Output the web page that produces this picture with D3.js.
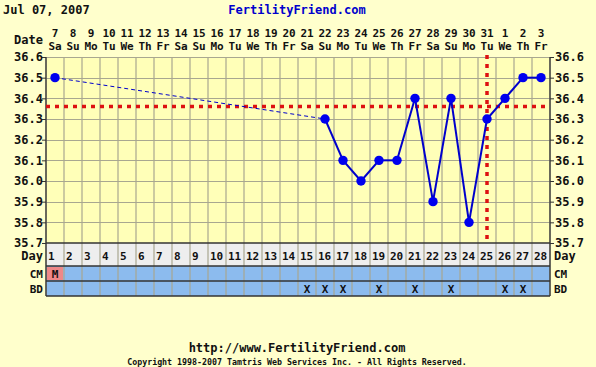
<!DOCTYPE html>
<html>
<head>
<meta charset="utf-8">
<script src="https://cdn.jsdelivr.net/npm/d3@7"></script>
<style>
  body { margin: 0; background: #ffffcc; }
  svg text { font-family: "DejaVu Sans Mono", monospace; font-weight: bold; }
</style>
</head>
<body>
<div id="Chart"></div>
<script>
// chart data
var cycleDays = d3.range(1, 29);
var dates = [7,8,9,10,11,12,13,14,15,16,17,18,19,20,21,22,23,24,25,26,27,28,29,30,31,1,2,3];
var weekdays = ["Sa","Su","Mo","Tu","We","Th","Fr","Sa","Su","Mo","Tu","We","Th","Fr",
                "Sa","Su","Mo","Tu","We","Th","Fr","Sa","Su","Mo","Tu","We","Th","Fr"];
// temperatures, null = not recorded
var temps = [36.5,null,null,null,null,null,null,null,null,null,null,null,null,null,null,
             36.3,36.1,36.0,36.1,36.1,36.4,35.9,36.4,35.8,36.3,36.4,36.5,36.5];
var tempTicks = [35.7,35.8,35.9,36.0,36.1,36.2,36.3,36.4,36.5,36.6];
var cmRow = ["M","","","","","","","","","","","","","","","","","","","","","","","","","","",""];
var bdDays = [15,16,17,19,21,23,26,27];
var coverline = 36.36;
var ovulationDay = 25;

var W = 596, H = 367;
var margin = {left: 46, right: 46, top: 57},
    plotH = 186;

var svg = d3.select("#Chart").append("svg")
    .attr("width", W).attr("height", H)
    .style("display", "block");

svg.append("rect").attr("width", W).attr("height", H).attr("fill", "#ffffcc");

var x = d3.scaleBand().domain(cycleDays).range([margin.left, W - margin.right]);
var y = d3.scaleLinear().domain([35.7, 36.6]).range([margin.top + plotH, margin.top]);
var bw = x.bandwidth();
var cx = function(d) { return x(d) + bw / 2; };

var plotBottom = margin.top + plotH;
var dayRow = {y: plotBottom, h: 23},
    cmR = {y: plotBottom + 23, h: 15},
    bdR = {y: plotBottom + 38, h: 15};

// plot background
svg.append("rect")
    .attr("x", margin.left).attr("y", margin.top)
    .attr("width", W - margin.left - margin.right).attr("height", plotH)
    .attr("fill", "#ffffb8");

// horizontal grid
svg.append("g").selectAll("line")
  .data(tempTicks).enter().append("line")
    .attr("x1", margin.left).attr("x2", W - margin.right)
    .attr("y1", function(d) { return Math.round(y(d)) + 0.5; })
    .attr("y2", function(d) { return Math.round(y(d)) + 0.5; })
    .attr("stroke", "#a8a790").attr("stroke-width", 1.2);

// row backgrounds
svg.append("rect").attr("x", margin.left).attr("y", dayRow.y)
    .attr("width", W - margin.left - margin.right).attr("height", dayRow.h).attr("fill", "#eeeeee");
svg.append("rect").attr("x", margin.left).attr("y", cmR.y)
    .attr("width", W - margin.left - margin.right).attr("height", cmR.h + bdR.h).attr("fill", "#8cbbee");

// M cells
svg.append("g").selectAll("rect")
  .data(cycleDays.filter(function(d, i) { return cmRow[i] == "M"; }))
  .enter().append("rect")
    .attr("x", function(d) { return x(d) + 1; }).attr("y", cmR.y + 1)
    .attr("width", bw - 2).attr("height", cmR.h - 2)
    .attr("fill", "#ee8888");

// vertical grid
svg.append("g").selectAll("line")
  .data(cycleDays.concat([29])).enter().append("line")
    .attr("x1", function(d) { return d == 29 ? W - margin.right : x(d); })
    .attr("x2", function(d) { return d == 29 ? W - margin.right : x(d); })
    .attr("y1", margin.top).attr("y2", bdR.y + bdR.h)
    .attr("stroke", "#a8a790").attr("stroke-width", 1.2);

// row separators
[dayRow.y, cmR.y, bdR.y, bdR.y + bdR.h].forEach(function(yy) {
  svg.append("line").attr("x1", margin.left).attr("x2", W - margin.right)
    .attr("y1", yy).attr("y2", yy).attr("stroke", "#333").attr("stroke-width", 1.3);
});
svg.append("line").attr("x1", margin.left).attr("x2", margin.left)
    .attr("y1", margin.top).attr("y2", bdR.y + bdR.h).attr("stroke", "#333").attr("stroke-width", 1.3);
svg.append("line").attr("x1", W - margin.right).attr("x2", W - margin.right)
    .attr("y1", margin.top).attr("y2", bdR.y + bdR.h).attr("stroke", "#333").attr("stroke-width", 1.3);

// axes (labels on both sides)
var yLeft = d3.axisLeft(y).tickValues(tempTicks).tickFormat(d3.format(".1f")).tickSize(4);
var yRight = d3.axisRight(y).tickValues(tempTicks).tickFormat(d3.format(".1f")).tickSize(4);
var gl = svg.append("g").attr("transform", "translate(" + margin.left + ",0)").call(yLeft);
var gr = svg.append("g").attr("transform", "translate(" + (W - margin.right) + ",0)").call(yRight);
[gl, gr].forEach(function(g) {
  g.select(".domain").remove();
  g.selectAll("line").attr("stroke", "#333");
  g.selectAll("text").attr("font-size", 12).attr("fill", "#111")
    .attr("font-family", "DejaVu Sans Mono").attr("font-weight", "bold");
});
gl.selectAll("text").attr("x", -3);
gr.selectAll("text").attr("x", 5);

// coverline
svg.append("line")
    .attr("x1", margin.left).attr("x2", W - margin.right)
    .attr("y1", y(coverline)).attr("y2", y(coverline))
    .attr("stroke", "#dd1111").attr("stroke-width", 3.5).attr("stroke-dasharray", "4,5");
// ovulation line
svg.append("line")
    .attr("x1", cx(ovulationDay)).attr("x2", cx(ovulationDay))
    .attr("y1", margin.top - 2).attr("y2", plotBottom)
    .attr("stroke", "#dd1111").attr("stroke-width", 3.5).attr("stroke-dasharray", "4,5");

// temperature line
var pts = cycleDays.map(function(d, i) { return {day: d, t: temps[i]}; })
    .filter(function(p) { return p.t != null; });
for (var i = 1; i < pts.length; i++) {
  var a = pts[i - 1], b = pts[i];
  var gap = b.day - a.day > 1;
  svg.append("line")
    .attr("x1", cx(a.day)).attr("y1", y(a.t))
    .attr("x2", cx(b.day)).attr("y2", y(b.t))
    .attr("stroke", "#0000cc")
    .attr("stroke-width", gap ? 1 : 2)
    .attr("stroke-dasharray", gap ? "4,3" : null);
}
svg.append("g").selectAll("circle")
  .data(pts).enter().append("circle")
    .attr("cx", function(d) { return cx(d.day); })
    .attr("cy", function(d) { return y(d.t); })
    .attr("r", 4.7).attr("fill", "#0000ee");

// date headers
svg.append("g").selectAll("text")
  .data(cycleDays).enter().append("text")
    .attr("x", function(d) { return cx(d); }).attr("y", 37)
    .attr("text-anchor", "middle").attr("font-size", 11).attr("fill", "#111")
    .text(function(d, i) { return dates[i]; });
svg.append("g").selectAll("text")
  .data(cycleDays).enter().append("text")
    .attr("x", function(d) { return cx(d); }).attr("y", 50)
    .attr("text-anchor", "middle").attr("font-size", 11).attr("fill", "#111")
    .text(function(d, i) { return weekdays[i]; });
svg.append("text").attr("x", 43).attr("y", 44).attr("text-anchor", "end")
    .attr("font-size", 12).attr("fill", "#111").text("Date");

// day numbers
svg.append("g").selectAll("text")
  .data(cycleDays).enter().append("text")
    .attr("x", function(d) { return x(d) + 2; }).attr("y", dayRow.y + 17)
    .attr("font-size", 11).attr("fill", "#111")
    .text(function(d) { return d; });
svg.append("text").attr("x", 43).attr("y", dayRow.y + 17).attr("text-anchor", "end")
    .attr("font-size", 12).attr("fill", "#111").text("Day");
svg.append("text").attr("x", W - margin.right + 4).attr("y", dayRow.y + 17)
    .attr("font-size", 12).attr("fill", "#111").text("Day");

// CM / BD rows
svg.append("g").selectAll("text")
  .data(cycleDays.filter(function(d, i) { return cmRow[i] != ""; }))
  .enter().append("text")
    .attr("x", function(d) { return cx(d); }).attr("y", cmR.y + 12)
    .attr("text-anchor", "middle").attr("font-size", 11).attr("fill", "#111")
    .text(function(d) { return cmRow[d - 1]; });
svg.append("g").selectAll("text")
  .data(bdDays).enter().append("text")
    .attr("x", function(d) { return cx(d); }).attr("y", bdR.y + 12)
    .attr("text-anchor", "middle").attr("font-size", 11).attr("font-weight", "normal").attr("fill", "#111")
    .text("X");
[["CM", cmR], ["BD", bdR]].forEach(function(r) {
  svg.append("text").attr("x", 43).attr("y", r[1].y + 12).attr("text-anchor", "end")
    .attr("font-size", 11).attr("fill", "#111").text(r[0]);
  svg.append("text").attr("x", W - margin.right + 4).attr("y", r[1].y + 12)
    .attr("font-size", 11).attr("fill", "#111").text(r[0]);
});

// titles
svg.append("text").attr("x", 3).attr("y", 14).attr("font-size", 12).attr("fill", "#111")
    .text("Jul 07, 2007");
svg.append("text").attr("x", 297).attr("y", 14).attr("text-anchor", "middle")
    .attr("font-size", 12).attr("fill", "#0000cc").text("FertilityFriend.com");
svg.append("text").attr("x", 297).attr("y", 352).attr("text-anchor", "middle")
    .attr("font-size", 12).attr("fill", "#111").text("http://www.FertilityFriend.com");
svg.append("text").attr("x", 297).attr("y", 365).attr("text-anchor", "middle")
    .attr("font-size", 8.3).attr("font-weight", "normal").attr("fill", "#111")
    .text("Copyright 1998-2007 Tamtris Web Services Inc. - All Rights Reserved.");
</script>
</body>
</html>
